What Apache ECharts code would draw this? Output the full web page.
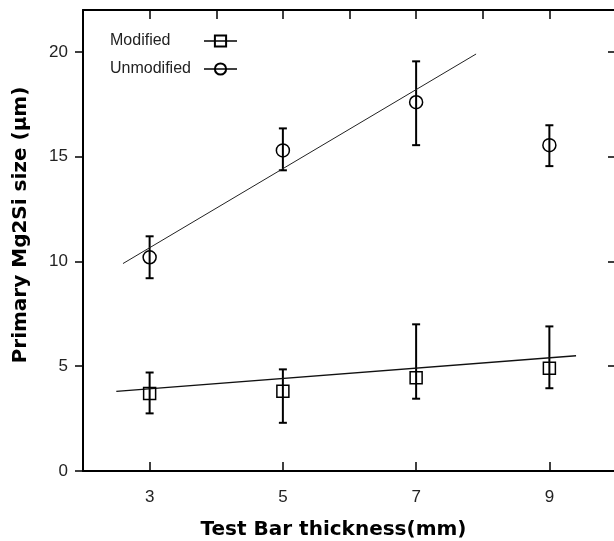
<!DOCTYPE html>
<html>
<head>
<meta charset="utf-8">
<script src="https://cdn.jsdelivr.net/npm/echarts@6/dist/echarts.min.js"></script>
<style>
  html, body { margin: 0; padding: 0; background: #fff; }
  #chart { width: 614px; height: 541px; }
</style>
</head>
<body>
<div id="chart"></div>
<script>
// test bar thickness (mm)
const thickness = [3, 5, 7, 9]

// Primary Mg2Si size (um)
const modifiedMean = [3.7, 3.8, 4.45, 4.9]
const modifiedLow = [2.75, 2.3, 3.45, 3.95]
const modifiedHigh = [4.7, 4.85, 7.0, 6.9]

const unmodifiedMean = [10.2, 15.3, 17.6, 15.55]
const unmodifiedLow = [9.2, 14.35, 15.55, 14.55]
const unmodifiedHigh = [11.2, 16.35, 19.55, 16.5]

// fitted trend lines (end points)
const modifiedFitX = [2.5, 9.4]
const modifiedFitY = [3.8, 5.5]
const unmodifiedFitX = [2.6, 7.9]
const unmodifiedFitY = [9.9, 19.9]

const xTicks = [3, 5, 7, 9]
const yTicks = [0, 5, 10, 15, 20]

const pairs = (xs, ys) => xs.map((x, i) => [x, ys[i]])

// error bar: vertical line with caps, drawn through the axes
function errorBar(params, api) {
  const lo = api.coord([api.value(0), api.value(1)])
  const hi = api.coord([api.value(0), api.value(2)])
  const cap = 4
  const style = { stroke: '#000', lineWidth: 2 }
  return {
    type: 'group',
    children: [
      { type: 'line', shape: { x1: lo[0], y1: lo[1], x2: hi[0], y2: hi[1] }, style },
      { type: 'line', shape: { x1: lo[0] - cap, y1: lo[1], x2: lo[0] + cap, y2: lo[1] }, style },
      { type: 'line', shape: { x1: hi[0] - cap, y1: hi[1], x2: hi[0] + cap, y2: hi[1] }, style },
    ],
  }
}

const markerStyle = { color: 'rgba(255,255,255,0)', borderColor: '#000', borderWidth: 1.5 }
const labelFont = { fontFamily: 'Liberation Sans Narrow, Liberation Sans, Arial', fontSize: 17, color: '#222' }
const frameLine = { onZero: false, lineStyle: { color: '#000', width: 2 } }

const chart = echarts.init(document.getElementById('chart'))

chart.setOption({
  animation: false,
  grid: { left: 83, top: 10, width: 533, height: 461, outerBoundsMode: 'none', containLabel: false },
  legend: {
    orient: 'vertical',
    left: 105,
    top: 28,
    align: 'right',
    itemWidth: 33,
    itemHeight: 14,
    itemGap: 12,
    data: ['Modified', 'Unmodified'],
    formatter: '{a|{name}}',
    textStyle: {
      fontFamily: 'Liberation Sans, Arial', fontSize: 16, color: '#222',
      rich: { a: { width: 89, align: 'left', fontFamily: 'Liberation Sans, Arial', fontSize: 16, color: '#222' } },
    },
    lineStyle: { opacity: 1, width: 1.5, color: '#000' },
  },
  xAxis: [
    {
      type: 'value',
      position: 'bottom',
      min: 2,
      max: 10,
      name: 'Test Bar thickness(mm)',
      nameLocation: 'middle',
      nameGap: 49,
      nameTextStyle: { fontFamily: 'DejaVu Sans', fontWeight: 'bold', fontSize: 20, color: '#000', padding: [0, 32, 0, 0] },
      axisLine: frameLine,
      axisTick: { inside: true, length: 9, lineStyle: { color: '#000', width: 1.5 }, customValues: xTicks },
      axisLabel: { margin: 18, customValues: xTicks, ...labelFont },
      splitLine: { show: false },
    },
    {
      type: 'value',
      position: 'top',
      min: 2,
      max: 10,
      interval: 1,
      axisLine: frameLine,
      axisTick: { inside: true, length: 9, lineStyle: { color: '#000', width: 1.5 } },
      axisLabel: { show: false },
      splitLine: { show: false },
    },
  ],
  yAxis: [
    {
      type: 'value',
      position: 'left',
      min: 0,
      max: 22,
      name: 'Primary Mg2Si size (μm)',
      nameLocation: 'middle',
      nameGap: 52,
      nameTextStyle: { fontFamily: 'DejaVu Sans', fontWeight: 'bold', fontSize: 20, color: '#000', padding: [0, 0, 0, 31] },
      axisLine: { show: true, ...frameLine },
      axisTick: { show: true, length: 8, lineStyle: { color: '#000', width: 1.5 }, customValues: yTicks },
      axisLabel: { margin: 15, customValues: yTicks, ...labelFont },
      splitLine: { show: false },
    },
    {
      type: 'value',
      position: 'right',
      min: 0,
      max: 22,
      axisLine: { show: false, onZero: false },
      axisTick: { show: true, inside: true, length: 8, lineStyle: { color: '#000', width: 1.5 }, customValues: yTicks },
      axisLabel: { show: false },
      splitLine: { show: false },
    },
  ],
  series: [
    {
      name: 'Modified fit',
      type: 'line',
      data: pairs(modifiedFitX, modifiedFitY),
      showSymbol: false,
      lineStyle: { color: '#111', width: 1.3 },
      silent: true,
    },
    {
      name: 'Unmodified fit',
      type: 'line',
      data: pairs(unmodifiedFitX, unmodifiedFitY),
      showSymbol: false,
      lineStyle: { color: '#222', width: 1 },
      silent: true,
    },
    {
      name: 'Modified error',
      type: 'custom',
      renderItem: errorBar,
      data: thickness.map((x, i) => [x, modifiedLow[i], modifiedHigh[i]]),
      z: 3,
    },
    {
      name: 'Unmodified error',
      type: 'custom',
      renderItem: errorBar,
      data: thickness.map((x, i) => [x, unmodifiedLow[i], unmodifiedHigh[i]]),
      z: 3,
    },
    {
      name: 'Modified',
      type: 'line',
      data: pairs(thickness, modifiedMean),
      symbol: 'rect',
      symbolSize: 12,
      itemStyle: markerStyle,
      lineStyle: { opacity: 0 },
      z: 4,
    },
    {
      name: 'Unmodified',
      type: 'line',
      data: pairs(thickness, unmodifiedMean),
      symbol: 'circle',
      symbolSize: 13,
      itemStyle: markerStyle,
      lineStyle: { opacity: 0 },
      z: 4,
    },
  ],
})
</script>
</body>
</html>
